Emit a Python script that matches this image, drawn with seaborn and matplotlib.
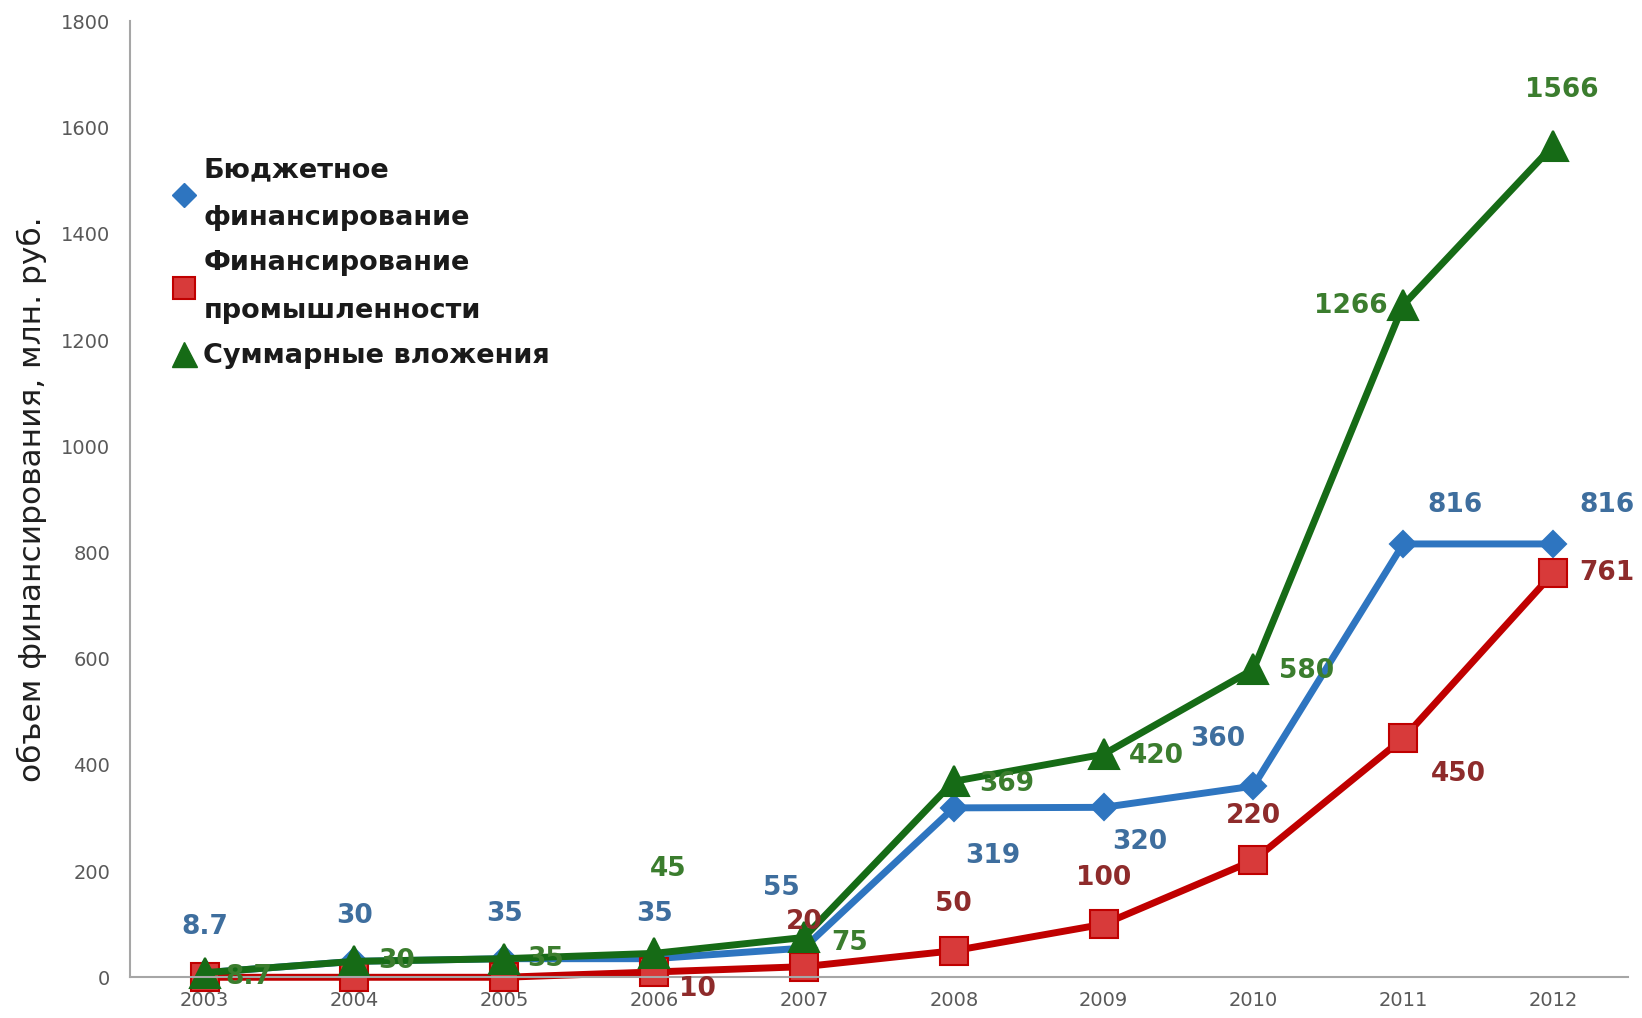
import numpy as np
import pandas as pd
import seaborn as sns
import matplotlib.pyplot as plt
from matplotlib.lines import Line2D

years = [2003, 2004, 2005, 2006, 2007, 2008, 2009, 2010, 2011, 2012]
budget = [8.7, 30, 35, 35, 55, 319, 320, 360, 816, 816]
industry = [0, 0, 0, 10, 20, 50, 100, 220, 450, 761]
total = [8.7, 30, 35, 45, 75, 369, 420, 580, 1266, 1566]

names = ['Бюджетное\nфинансирование', 'Финансирование\nпромышленности', 'Суммарные вложения']
ylabel = 'объем финансирования, млн. руб.'

# label offsets in points (dx, dy), one per year
off_budget = [(0, 33), (0, 33), (0, 32), (0, 32), (-16, 43), (28, -35), (26, -25), (-26, 34), (37, 28), (39, 28)]
off_industry = [None, None, None, (31, -12), (0, 32), (0, 34), (0, 33), (0, 32), (40, -26), (39, 0)]
off_total = [(32, -3), (30, 0), (30, 0), (10, 61), (33, -4), (38, -2), (38, -1), (38, -1), (-38, -1), (6, 40)]

sns.set_style('white')
plt.rcParams['font.family'] = ['DejaVu Sans']

fig = plt.figure(figsize=(16.42, 10.18), dpi=100)
ax = fig.add_axes([0.079, 0.040, 0.9125, 0.939])

pos = np.arange(len(years))
series = [
    (budget, '#2E75C0', 'D', 13, '#2E75C0', '#3E6E9E', off_budget),
    (industry, '#C00000', 's', 20, '#C00000', '#8E2B2B', off_industry),
    (total, '#166B16', '^', 22, '#166B16', '#3B7D2E', off_total),
]

for vals, col, mk, ms, edge, lcol, offs in series:
    df = pd.DataFrame({'pos': pos, 'val': vals})
    face = '#D83A3A' if mk == 's' else col
    sns.lineplot(data=df, x='pos', y='val', ax=ax, color=col, linewidth=5,
                 marker=mk, markersize=ms, markerfacecolor=face,
                 markeredgecolor=edge, markeredgewidth=1.5, clip_on=False)
    for x, v, o in zip(pos, vals, offs):
        if o is None:
            continue
        lab = ('%g' % v)
        ax.annotate(lab, (x, v), xytext=o, textcoords='offset points',
                    ha='center', va='center', fontsize=19, fontweight='bold',
                    color=lcol, annotation_clip=False)

ax.set_xlim(-0.5, 9.5)
ax.set_ylim(0, 1800)
ax.set_yticks(range(0, 1801, 200))
ax.set_xticks(pos)
ax.set_xticklabels([str(y) for y in years])
ax.tick_params(axis='both', length=0, labelsize=14, labelcolor='#595959')
ax.tick_params(axis='y', pad=14)
ax.tick_params(axis='x', pad=10)
ax.set_xlabel('')
ax.set_ylabel(ylabel, fontsize=22.5, color='#1F1F1F')
ax.yaxis.set_label_coords(-0.055, 0.5)

sns.despine(ax=ax)
for s in ['left', 'bottom']:
    ax.spines[s].set_color('#A6A6A6')
    ax.spines[s].set_linewidth(1.5)

handles = [
    Line2D([], [], linestyle='none', marker='D', markersize=12, color='#2E75C0'),
    Line2D([], [], linestyle='none', marker='s', markersize=16, markerfacecolor='#D83A3A',
           markeredgecolor='#C00000', markeredgewidth=1.5),
    Line2D([], [], linestyle='none', marker='^', markersize=18, color='#166B16'),
]
leg = ax.legend(handles, names, loc='upper left', bbox_to_anchor=(0.022, 0.869),
                frameon=False, handlelength=0.8, handletextpad=0.3,
                labelspacing=0.7, borderaxespad=0,
                prop={'size': 19.5, 'weight': 'bold'})
for t in leg.get_texts():
    t.set_linespacing(2.1)
    t.set_color('#1A1A1A')

fig.savefig('out.png', dpi=100)
